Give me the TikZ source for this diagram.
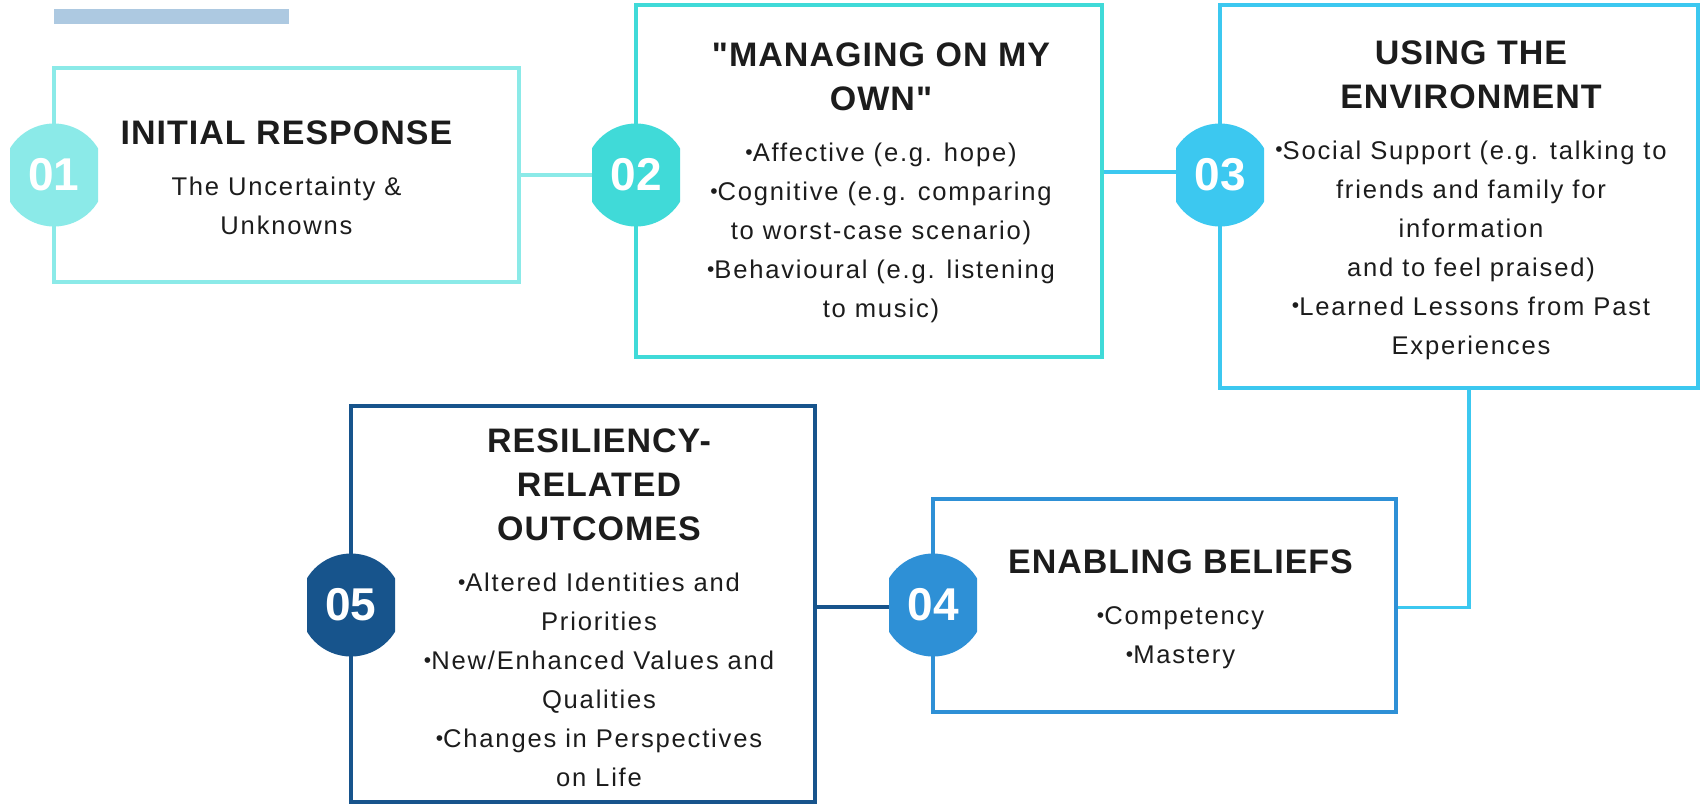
\documentclass[tikz,border=0pt]{standalone}
\usepackage{fontspec}
\setmainfont{Liberation Sans}
\newfontfamily\headfont[LetterSpace=3]{Liberation Sans}
\newfontfamily\bodyfont[LetterSpace=7]{Liberation Sans}
\newfontfamily\numfont{Liberation Sans}
\usepackage{tikz}
\usetikzlibrary{positioning}

\definecolor{stepa}{HTML}{8BEAE8}
\definecolor{stepb}{HTML}{40DAD8}
\definecolor{stepc}{HTML}{3CC8F0}
\definecolor{stepd}{HTML}{2E90D6}
\definecolor{stepe}{HTML}{17548C}
\definecolor{barcol}{HTML}{ADC9E1}
\definecolor{txtcol}{HTML}{1C1C1C}

\tikzstyle{box} = [rectangle, draw, line width=1.7pt, inner sep=0pt]
\tikzstyle{info} = [align=center, text=txtcol, inner sep=0pt, font=\bodyfont\fontsize{12.8}{19.5}\selectfont]
\tikzstyle{link} = [line width=1.7pt]
\tikzset{badge/.style={rectangle, minimum width=44pt, minimum height=52pt, inner sep=0pt, text=white,
  font=\numfont\bfseries\fontsize{23}{23}\selectfont,
  path picture={\fill[#1] (path picture bounding box.center) circle (25.75pt);}}}

\newcommand{\ttl}[1]{{\headfont\bfseries\fontsize{17}{21}\selectfont #1}}
\newcommand{\bul}{\raisebox{1.2pt}{\fontsize{10.5}{10}\selectfont •}}

\begin{document}
\begin{tikzpicture}[x=0.5pt,y=-0.5pt]
\useasboundingbox (0,0) rectangle (1700,804);

\node (bar) [rectangle, fill=barcol, minimum width=117.5pt, minimum height=7.5pt, inner sep=0pt] at (171.5,16.5) {};

\node (box1) [box, draw=stepa, minimum width=232.5pt, minimum height=107pt] at (286.5,175) {};
\node (box2) [box, draw=stepb, minimum width=233pt, minimum height=176pt] at (869,181) {};
\node (box3) [box, draw=stepc, minimum width=239pt, minimum height=191.5pt] at (1459,196.5) {};
\node (box4) [box, draw=stepd, minimum width=231.5pt, minimum height=106.5pt] at (1164.5,605.5) {};
\node (box5) [box, draw=stepe, minimum width=232pt, minimum height=198pt] at (583,604) {};

\node (txt1) [info] at ([yshift=-1.5pt]box1.center) {\ttl{INITIAL RESPONSE}\\[6pt]
  The Uncertainty \&\\ Unknowns};
\node (txt2) [info] at ([xshift=6pt,yshift=-1pt]box2.center) {\ttl{"MANAGING ON MY}\\[2.5pt] \ttl{OWN"}\\[6pt]
  \bul Affective (e.g. hope)\\ \bul Cognitive (e.g. comparing\\ to worst-case scenario)\\
  \bul Behavioural (e.g. listening\\ to music)};
\node (txt3) [info] at ([xshift=6pt,yshift=-1.75pt]box3.center) {\ttl{USING THE}\\[2.5pt] \ttl{ENVIRONMENT}\\[6pt]
  \bul Social Support (e.g. talking to\\ friends and family for\\ information\\ and to feel praised)\\
  \bul Learned Lessons from Past\\ Experiences};
\node (txt4) [info] at ([xshift=8pt,yshift=-2pt]box4.center) {\ttl{ENABLING BELIEFS}\\[6pt]
  \bul Competency\\ \bul Mastery};
\node (txt5) [info] at ([xshift=8pt,yshift=-2pt]box5.center) {\ttl{RESILIENCY-}\\[2.5pt] \ttl{RELATED}\\[2.5pt] \ttl{OUTCOMES}\\[6pt]
  \bul Altered Identities and\\ Priorities\\ \bul New/Enhanced Values and\\ Qualities\\
  \bul Changes in Perspectives\\ on Life};

\node (num1) [badge=stepa] at (54,175) {01};
\node (num2) [badge=stepb] at (636,175) {02};
\node (num3) [badge=stepc] at (1220,175) {03};
\node (num4) [badge=stepd] at (933,605) {04};
\node (num5) [badge=stepe] at (351,605) {05};

\draw[link, stepa] (box1.east |- num2.west) -- (num2.west);
\draw[link, stepc] ([yshift=1.5pt]box2.east |- num3.west) -- ([yshift=1.5pt]num3.west);
\draw[link, stepc] ([yshift=-1pt]box4.east) -| ([xshift=5pt]box3.south);
\draw[link, stepe] ([yshift=-1pt]box5.east |- num4.west) -- ([yshift=-1pt]num4.west);
\end{tikzpicture}
\end{document}
